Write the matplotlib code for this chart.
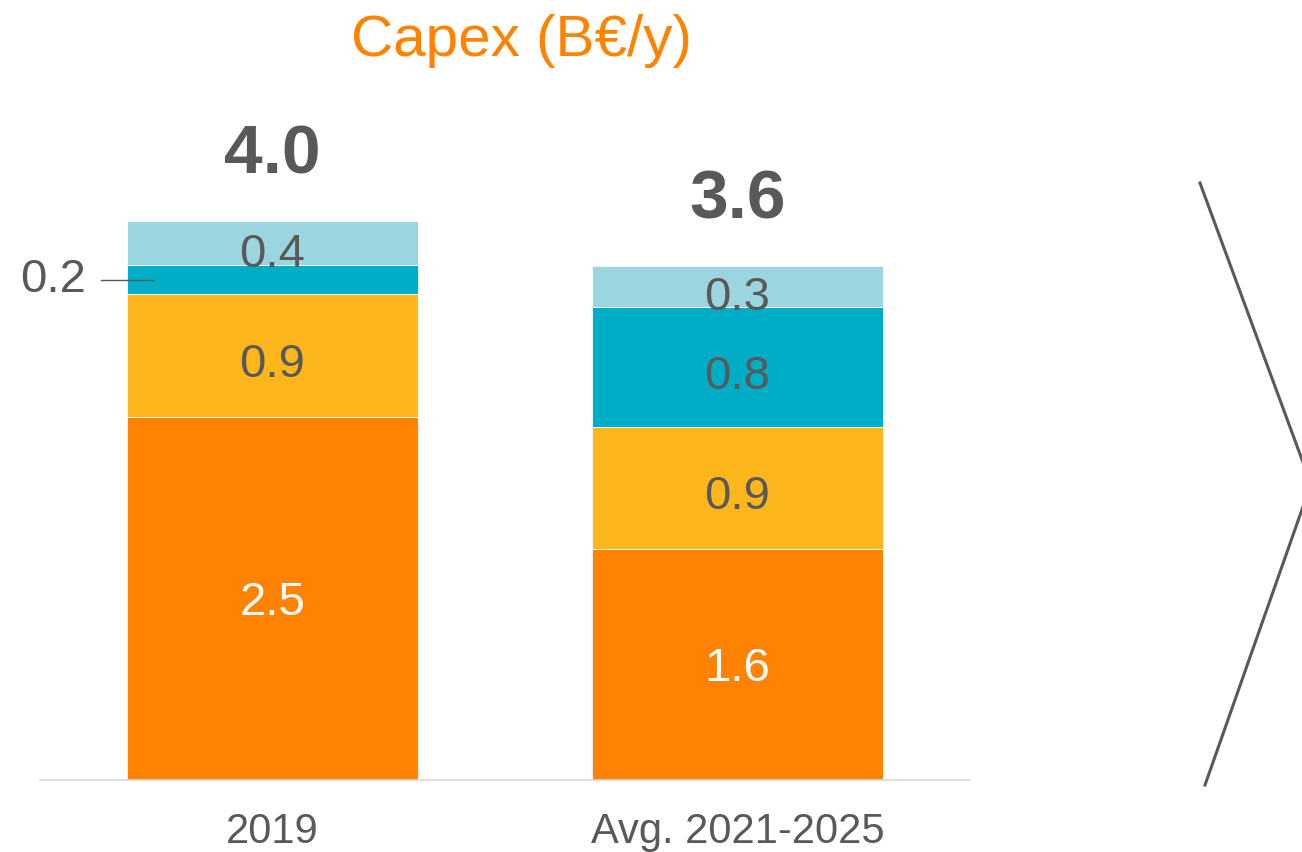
import matplotlib
matplotlib.use("Agg")
import matplotlib.pyplot as plt
from matplotlib.lines import Line2D
import numpy as np

plt.rcParams["font.family"] = ["Liberation Sans", "DejaVu Sans"]

# data (segment heights, B€/y)
categories = ["2019", "Avg. 2021-2025"]
orange_vals = [2.59, 1.65]
yellow_vals = [0.88, 0.87]
teal_vals = [0.21, 0.86]
light_vals = [0.31, 0.29]
orange_lbl = ["2.5", "1.6"]
yellow_lbl = ["0.9", "0.9"]
teal_lbl = ["0.2", "0.8"]
light_lbl = ["0.4", "0.3"]
total_lbl = ["4.0", "3.6"]

GREY = "#595959"
colors = ["#FF8200", "#FDB71C", "#00ADC6", "#9BD5DF"]
label_dy = [-0.03, -0.065, -0.07, -0.085]  # nudge labels like the original

fig = plt.figure(figsize=(13.02, 8.52), dpi=100)
ax = fig.add_axes([40 / 1302, 72 / 852, 930 / 1302, 630 / 852])

x = np.arange(len(categories))
w = 0.624
series = [orange_vals, yellow_vals, teal_vals, light_vals]
labels = [orange_lbl, yellow_lbl, teal_lbl, light_lbl]
bottom = np.zeros(len(categories))
for k, (vals, lbls) in enumerate(zip(series, labels)):
    vals = np.array(vals)
    ax.bar(x, vals, w, bottom=bottom, color=colors[k], edgecolor="white", linewidth=0.6)
    for i in range(len(x)):
        mid = bottom[i] + vals[i] / 2
        txt_col = "white" if k == 0 else GREY
        if k == 2 and i == 0:
            # small segment: label outside with leader line
            ax.plot([x[i] - w / 2 - 0.056, x[i] - w / 2 + 0.056], [mid, mid], color=GREY, lw=1)
            ax.text(x[i] - w / 2 - 0.088, mid, lbls[i], ha="right", va="center",
                    fontsize=34, color=GREY)
            continue
        ax.text(x[i], mid + label_dy[k], lbls[i], ha="center", va="center",
                fontsize=34, color=txt_col)
    bottom += vals

for i in range(len(x)):
    ax.text(x[i], bottom[i] + 0.47, total_lbl[i], ha="center", va="center",
            fontsize=50, fontweight="bold", color=GREY)

ax.set_xlim(-0.5, 1.5)
ax.set_ylim(0, 4.5)
ax.set_yticks([])
ax.set_xticks(x)
ax.set_xticklabels(categories, fontsize=30, color=GREY)
ax.tick_params(axis="x", length=0, pad=23)
for s in ["top", "left", "right"]:
    ax.spines[s].set_visible(False)
ax.spines["bottom"].set_color("#D9D9D9")
ax.spines["bottom"].set_linewidth(1.2)

fig.text(521 / 1302, 1 - 41 / 852, "Capex (B€/y)", ha="center", va="center",
         fontsize=42, color="#FF8200")

# chevron on the right edge
H = 852.0
fig.add_artist(Line2D([1200 / 1302, 1311 / 1302, 1205 / 1302],
                      [1 - 183 / H, 1 - 484 / H, 1 - 785 / H],
                      color=GREY, lw=2.2, transform=fig.transFigure))

fig.savefig("out.png", dpi=100)
